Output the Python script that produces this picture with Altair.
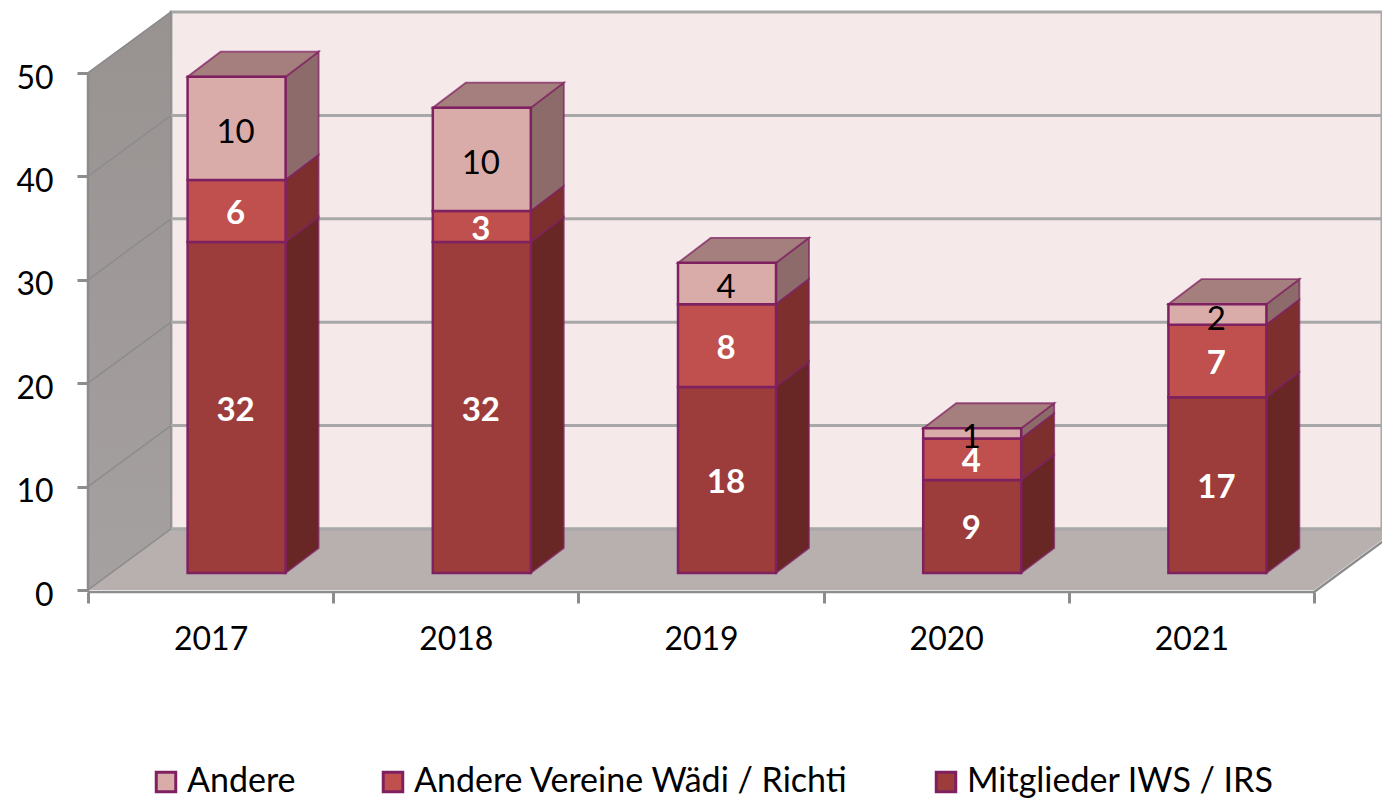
import altair as alt
import pandas as pd

YEARS = ["2017", "2018", "2019", "2020", "2021"]
SERIES = ["Andere", "Andere Vereine Wädi / Richti", "Mitglieder IWS / IRS"]
MEMBERS = [32, 32, 18, 9, 17]
OTHER_CLUBS = [6, 3, 8, 4, 7]
OTHERS = [10, 10, 4, 1, 2]
TICKS = [0, 10, 20, 30, 40, 50]

FRONT = {"Andere": "#D9ACAA", SERIES[1]: "#C0504D", SERIES[2]: "#9C3D3B"}
SIDE = {"Andere": "#8C6B6A", SERIES[1]: "#7D2F2E", SERIES[2]: "#682625"}
TOP = "#A57F7D"
EDGE = "#7F2161"
GRID = "#A8A8A8"
AXC = "#8C8C8C"
FONT = "Lato"

PX_X, PX_Y = 245.2, 10.34
W, H = 1294, 580
WALL_DX, WALL_DY = 83 / PX_X, 61 / PX_Y
F_DX, F_DY = 26 / PX_X, 17 / PX_Y
S_DX, S_DY = 33 / PX_X, 25 / PX_Y
BAR = 98 / PX_X
XMAX, YMAX = W / PX_X, H / PX_Y
XEND = 5

xs = alt.Scale(domain=[0, XMAX], range=[0, W], nice=False, zero=False)
ys = alt.Scale(domain=[0, YMAX], range=[H, 0], nice=False, zero=False)

label_expr = " : ".join(
    f"datum.value == {i + 0.5} ? '{y}'" for i, y in enumerate(YEARS)
) + " : ''"
x_axis = alt.Axis(
    values=[v / 2 for v in range(0, 11)], labelExpr=label_expr, title=None, grid=False,
    domain=False, tickSize=11, tickWidth=3, tickColor=AXC, offset=2,
    tickOpacity={"condition": {"test": "datum.value % 1 == 0", "value": 1}, "value": 0},
    labelFont=FONT, labelFontSize=32, labelColor="black", labelPadding=21,
    labelOverlap=False, labelFlush=False, labelBaseline="top",
)
y_axis = alt.Axis(
    values=TICKS, title=None, grid=False, domain=False, tickSize=11, tickWidth=3, tickColor=AXC,
    labelFont=FONT, labelFontSize=32, labelColor="black", labelPadding=24, labelOffset=5,
    labelOverlap=False, labelFlush=False, format="d",
)


def X(field="x"):
    return alt.X(f"{field}:Q", scale=xs, axis=x_axis)


def Y(field="y"):
    return alt.Y(f"{field}:Q", scale=ys, axis=y_axis)


# bar segments
rows = []
for i, yr in enumerate(YEARS):
    base = 0
    for s, v in ((SERIES[2], MEMBERS[i]), (SERIES[1], OTHER_CLUBS[i]), (SERIES[0], OTHERS[i])):
        rows.append(dict(year=yr, i=i, series=s, value=v, b=base, t=base + v))
        base += v
seg = pd.DataFrame(rows)
seg["l"] = seg.i + 0.5 + F_DX - BAR / 2
seg["r"] = seg.l + BAR
seg["y0"] = seg.b + F_DY
seg["y1"] = seg.t + F_DY
seg["ym"] = (seg.y0 + seg.y1) / 2 - 3 / PX_Y
seg["xm"] = seg.l + BAR / 2 - 1 / PX_X

side_rows = []
top_rows = []
for r in seg.itertuples():
    side_rows.append(dict(key=f"{r.year}{r.series}", series=r.series, x=r.r, y=r.y1, y2=r.y0))
    side_rows.append(dict(key=f"{r.year}{r.series}", series=r.series, x=r.r + S_DX, y=r.y1 + S_DY, y2=r.y0 + S_DY))
    if r.series == SERIES[0]:
        top_rows.append(dict(key=r.year, y=r.y1, x=r.l, x2=r.r))
        top_rows.append(dict(key=r.year, y=r.y1 + S_DY, x=r.l + S_DX, x2=r.r + S_DX))
side = pd.DataFrame(side_rows)
top = pd.DataFrame(top_rows)

layers = []

# back wall
wall = pd.DataFrame({"x": [WALL_DX, XMAX], "y": [WALL_DY, WALL_DY], "y2": [WALL_DY + 50] * 2})
layers.append(alt.Chart(wall).mark_area(fill="#F5E9EA", stroke=GRID, strokeWidth=3).encode(x=X(), y=Y(), y2="y2:Q"))

# left wall
lw = pd.DataFrame({"x": [0, WALL_DX], "y": [0, WALL_DY], "y2": [50, 50 + WALL_DY]})
layers.append(alt.Chart(lw).mark_area(
    color=alt.Gradient(gradient="linear", x1=0, x2=0, y1=0, y2=1,
                       stops=[alt.GradientStop(offset=0, color="#989291"), alt.GradientStop(offset=1, color="#A6A1A1")]),
    stroke=AXC, strokeWidth=1.5).encode(x=X(), y=Y(), y2="y2:Q"))

# floor
fl = pd.DataFrame({"y": [0, WALL_DY], "x": [0, WALL_DX], "x2": [XEND, XEND + WALL_DX]})
layers.append(alt.Chart(fl).mark_area(orient="horizontal", fill="#B8AFAF", clip=True).encode(x=X(), x2="x2:Q", y=Y()))

# gridlines
back = pd.DataFrame([dict(v=t, x=a, y=t + WALL_DY) for t in TICKS[1:-1] for a in (WALL_DX, XMAX)])
back = pd.concat([back, pd.DataFrame([dict(v=0, x=a, y=WALL_DY) for a in (WALL_DX, XMAX)])])
layers.append(alt.Chart(back).mark_line(color=GRID, strokeWidth=3, clip=True).encode(x=X(), y=Y(), detail="v:N"))
diag = pd.DataFrame([dict(v=t, x=a, y=t + b) for t in TICKS for a, b in ((0, 0), (WALL_DX, WALL_DY))])
layers.append(alt.Chart(diag).mark_line(color=AXC, strokeWidth=1.5).encode(x=X(), y=Y(), detail="v:N"))

# front axis edges
edge_v = pd.DataFrame({"x": [0, 0], "y": [-2 / PX_Y, 50]})
layers.append(alt.Chart(edge_v).mark_line(color=AXC, strokeWidth=2.5, clip=False).encode(x=X(), y=Y()))
edge_h = pd.DataFrame({"x": [0, XEND, XEND + WALL_DX], "y": [-2 / PX_Y, -2 / PX_Y, WALL_DY - 2 / PX_Y], "o": [0, 1, 2]})
layers.append(alt.Chart(edge_h).mark_line(color=AXC, strokeWidth=2.5).encode(
    x=alt.X("x:Q", scale=xs, axis=x_axis), y=Y(), order="o:Q"))

# bar sides
for s in SERIES:
    layers.append(alt.Chart(side[side.series == s]).mark_area(
        fill=SIDE[s], stroke=EDGE, strokeWidth=1.8, strokeOpacity=0.75
    ).encode(x=X(), y=Y(), y2="y2:Q", detail="key:N"))

# bar tops
layers.append(alt.Chart(top).mark_area(
    orient="horizontal", fill=TOP, stroke=EDGE, strokeWidth=1.8, strokeOpacity=0.75
).encode(x=X(), x2="x2:Q", y=Y(), detail="key:N"))

# bar fronts (with legend)
layers.append(alt.Chart(seg).mark_rect(stroke=EDGE, strokeWidth=2.5).encode(
    x=X("l"), x2="r:Q",
    y=Y("y0"), y2="y1:Q",
    color=alt.Color("series:N", scale=alt.Scale(domain=SERIES, range=[FRONT[s] for s in SERIES]),
                    legend=alt.Legend(
                        orient="none", legendX=61, legendY=755, direction="horizontal", columns=3,
                        columnPadding=80, title=None, symbolType="square", symbolSize=380,
                        symbolStrokeColor=EDGE, symbolStrokeWidth=3, labelFont=FONT, labelFontSize=34,
                        labelColor="black", labelOffset=4, labelLimit=800, symbolOpacity=1, padding=0,
                    )),
))

# value labels
white = seg[seg.series != SERIES[0]]
black = seg[seg.series == SERIES[0]].assign(ym=lambda d: d.ym - 2 / PX_Y)
layers.append(alt.Chart(white).mark_text(font=FONT, fontSize=33, fontWeight="bold", color="white").encode(
    x=X("xm"), y=Y("ym"), text="value:Q"))
layers.append(alt.Chart(black).mark_text(font=FONT, fontSize=33, color="black").encode(
    x=X("xm"), y=Y("ym"), text="value:Q"))

chart = alt.layer(*layers).properties(
    width=W, height=H, autosize="none",
    padding={"left": 80, "top": 2, "right": 0, "bottom": 211},
    background="white",
).configure_view(stroke=None)

chart.save("out.html", embed_options={"renderer": "svg", "actions": False})
